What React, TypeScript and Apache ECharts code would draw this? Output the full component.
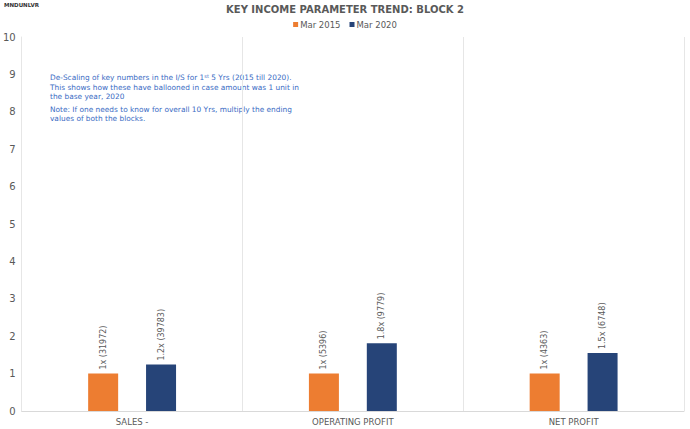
import React, { useEffect, useRef } from "react";
import * as echarts from "echarts";

const categories = ["SALES -", "OPERATING PROFIT", "NET PROFIT"];
const seriesNames = ["Mar 2015", "Mar 2020"];
const multiples2015 = [1, 1, 1];
const multiples2020 = [1.24, 1.81, 1.55];
const labelMult2015 = ["1x", "1x", "1x"];
const labelMult2020 = ["1.2x", "1.8x", "1.5x"];
const raw2015 = [31972, 5396, 4363];
const raw2020 = [39783, 9779, 6748];
const yTicks = { min: 0, max: 10, interval: 1 };

const gray = "#595959";

export default function App() {
  const ref = useRef<HTMLDivElement>(null);
  useEffect(() => {
    if (!ref.current) return;
    const chart = echarts.init(ref.current, null, { renderer: "svg" });
    const mkLabel = (mults: string[], raws: number[]) => ({
      show: true,
      position: "top",
      rotate: 90,
      align: "left",
      verticalAlign: "middle",
      distance: 4,
      color: gray,
      fontSize: 8,
      fontFamily: "DejaVu Sans",
      formatter: (p: any) => `${mults[p.dataIndex]} (${raws[p.dataIndex]})`,
    });
    chart.setOption({
      animation: false,
      backgroundColor: "#ffffff",
      title: {
        text: "KEY INCOME PARAMETER TREND: BLOCK 2",
        left: "center",
        top: -1,
        textStyle: {
          fontFamily: "DejaVu Sans",
          fontWeight: "bold",
          fontSize: 10,
          color: gray,
        },
      },
      legend: {
        top: 15,
        left: "center",
        itemWidth: 5,
        itemHeight: 5,
        itemGap: 9,
        icon: "rect",
        textStyle: { fontSize: 8.5, color: gray, fontFamily: "DejaVu Sans", padding: [0, 0, 0, -3] },
        data: seriesNames,
      },
      grid: { left: 19, right: 6, top: 37, bottom: 18, containLabel: false },
      xAxis: {
        type: "category",
        data: categories,
        axisLine: { show: true, lineStyle: { color: "#d9d9d9" } },
        axisTick: { show: false },
        splitLine: { show: true, lineStyle: { color: "#e6e6e6" } },
        axisLabel: { color: gray, fontSize: 8.5, fontFamily: "DejaVu Sans", margin: 6 },
      },
      yAxis: {
        type: "value",
        min: yTicks.min,
        max: yTicks.max,
        interval: yTicks.interval,
        axisLine: { show: true, lineStyle: { color: "#e6e6e6" } },
        axisTick: { show: false },
        splitLine: { show: false },
        axisLabel: { color: gray, fontSize: 10, fontFamily: "DejaVu Sans", margin: 6 },
      },
      series: [
        {
          name: seriesNames[0],
          type: "bar",
          data: multiples2015,
          barWidth: 30,
          barGap: "93%",
          itemStyle: { color: "#ED7D31" },
          label: mkLabel(labelMult2015, raw2015),
        },
        {
          name: seriesNames[1],
          type: "bar",
          data: multiples2020,
          barWidth: 30,
          itemStyle: { color: "#264478" },
          label: mkLabel(labelMult2020, raw2020),
        },
      ],
      graphic: [
        {
          type: "text",
          left: 4,
          top: 2,
          style: { text: "MNDUNLVR", fontSize: 5.5, fontWeight: "bold", fill: "#333", fontFamily: "DejaVu Sans" },
        },
        {
          type: "text",
          left: 50,
          top: 73,
          style: {
            text:
              "De-Scaling of key numbers in the I/S for 1{sup|st} 5 Yrs (2015 till 2020).\nThis shows how these have ballooned in case amount was 1 unit in\nthe base year, 2020\n{gap|}\nNote: If one needs to know for overall 10 Yrs, multiply the ending\nvalues of both the blocks.",
            fontSize: 7.4,
            lineHeight: 9.5,
            fill: "#3a6bc4",
            fontFamily: "DejaVu Sans",
            rich: {
              sup: { fontSize: 5, fill: "#3a6bc4", verticalAlign: "top", padding: [0, 0, 4, 0], fontFamily: "DejaVu Sans" },
              gap: { fontSize: 3, lineHeight: 3 },
            },
          },
        },
      ],
    });
    return () => chart.dispose();
  }, []);
  return <div ref={ref} style={{ width: 690, height: 429, position: "absolute", left: 0, top: 0 }} />;
}
